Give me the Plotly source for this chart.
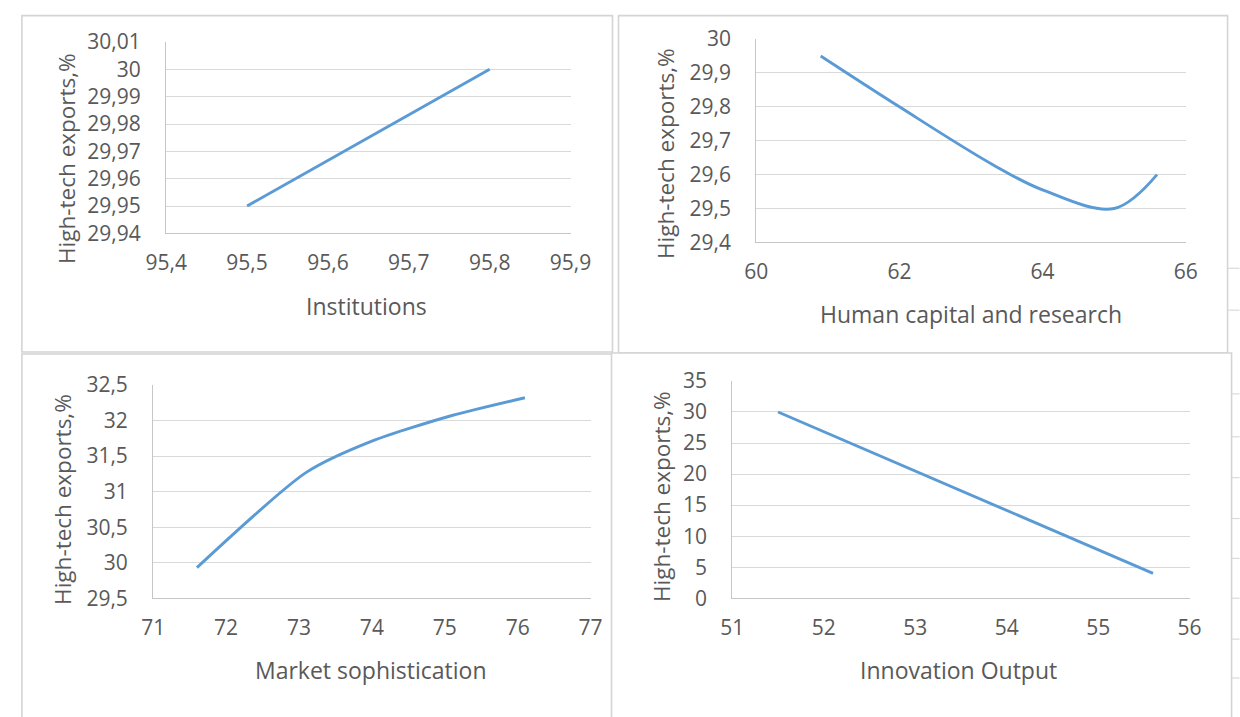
import plotly.graph_objects as go

# ---------------- data ----------------
inst_x = [95.5, 95.8]
inst_y = [29.95, 30.0]

hcr_x = [60.9, 62.0, 63.3, 64.0, 65.0, 65.6]
hcr_y = [29.95, 29.80, 29.63, 29.555, 29.50, 29.60]

mkt_x = [71.6, 73.1, 74.0, 75.1, 76.1]
mkt_y = [29.93, 31.27, 31.71, 32.07, 32.32]

out_x = [51.5, 55.6]
out_y = [30.0, 4.0]

x_titles = ["Institutions", "Human capital and research", "Market sophistication", "Innovation Output"]
y_title = "High-tech exports,%"

# ---------------- layout helpers ----------------
W, H = 1240, 717
FONT = "Open Sans"
TXT = "#595959"
GRID = "#d9d9d9"
AXL = "#c6c6c6"
BLUE = "#5b9bd5"

# the photographed page is shown slightly reduced and offset; place things
# so that they land on the wanted picture pixels
OX, SX = 19.6, 0.9676
OY, SY = 12.9, 0.964

def fx(r):
    return ((r - OX) / SX) / W

def fy(r):
    return 1 - ((r - OY) / SY) / H

areas = [
    (165, 570, 40, 232),
    (756, 1186, 37, 241),
    (152, 590, 384, 598),
    (732, 1190, 380, 598),
]
ranges_x = [(95.4, 95.9, 0.1), (60, 66, 2), (71, 77, 1), (51, 56, 1)]
ranges_y = [(29.94, 30.01, 0.01), (29.4, 30.0, 0.1), (29.5, 32.5, 0.5), (0, 35, 5)]

series = [(inst_x, inst_y, "linear", 1.0), (hcr_x, hcr_y, "spline", 1.0),
          (mkt_x, mkt_y, "spline", 0.7), (out_x, out_y, "linear", 1.0)]

fig = go.Figure()

for i, (xs, ys, shape, sm) in enumerate(series):
    suffix = "" if i == 0 else str(i + 1)
    fig.add_trace(go.Scatter(
        x=xs, y=ys, mode="lines",
        line=dict(color=BLUE, width=2.9, shape=shape, smoothing=sm),
        xaxis="x" + suffix, yaxis="y" + suffix, showlegend=False,
        hoverinfo="skip",
    ))

layout = dict(
    width=W, height=H,
    margin=dict(l=0, r=0, t=0, b=0),
    paper_bgcolor="white", plot_bgcolor="white",
    separators=", ",
    showlegend=False,
    font=dict(family=FONT, color=TXT, size=21),
)

for i in range(4):
    l, r, t, b = areas[i]
    suffix = "" if i == 0 else str(i + 1)
    x0, x1, dx = ranges_x[i]
    y0, y1, dy = ranges_y[i]
    layout["xaxis" + suffix] = dict(
        domain=[fx(l), fx(r)], range=[x0, x1], tick0=x0, dtick=dx,
        anchor="y" + suffix, showgrid=False, zeroline=False,
        showline=True, linecolor=AXL, linewidth=1.3,
        ticks="", ticklabelstandoff=10,
        tickfont=dict(family=FONT, color=TXT, size=21),
        fixedrange=True,
    )
    layout["yaxis" + suffix] = dict(
        domain=[fy(b), fy(t)], range=[y0, y1], tick0=y0, dtick=dy,
        anchor="x" + suffix, showgrid=True, gridcolor=GRID, gridwidth=1.3,
        zeroline=False, showline=True, linecolor=AXL, linewidth=1.3,
        ticks="", ticklabelstandoff=20,
        tickfont=dict(family=FONT, color=TXT, size=21),
        fixedrange=True,
    )

fig.update_layout(**layout)

xt_pos = [(366, 305), (971, 313), (370, 670), (959, 670)]
yt_pos = [(65, 157), (665, 152), (61, 499), (661, 496)]
for i in range(4):
    fig.add_annotation(text=x_titles[i], xref="paper", yref="paper",
                       x=fx(xt_pos[i][0]), y=fy(xt_pos[i][1]),
                       xanchor="center", yanchor="middle", showarrow=False,
                       font=dict(family=FONT, color=TXT, size=23))
    fig.add_annotation(text=y_title, xref="paper", yref="paper",
                       x=fx(yt_pos[i][0]), y=fy(yt_pos[i][1]), textangle=-90,
                       xanchor="center", yanchor="middle", showarrow=False,
                       font=dict(family=FONT, color=TXT, size=22.5))

shapes = []
CELL = "#dadada"
def seg(x0, y0, x1, y1, color=CELL, w=1.2):
    shapes.append(dict(type="line", xref="paper", yref="paper",
                       x0=fx(x0), y0=fy(y0), x1=fx(x1), y1=fy(y1),
                       line=dict(color=color, width=w), layer="below"))

for yv in [267, 309]:
    seg(1228, yv, 1240, yv)
for yv in [393, 436, 477, 518, 558, 598, 639, 678]:
    seg(1232, yv, 1240, yv)

FR = "#d4d4d4"
def rect(x0, y0, x1, y1):
    shapes.append(dict(type="rect", xref="paper", yref="paper",
                       x0=fx(x0), y0=fy(y0), x1=fx(x1), y1=fy(y1),
                       line=dict(color=FR, width=1.6), fillcolor="white", layer="below"))

rect(20.5, 13.5, 612, 351)
rect(618, 13.5, 1228, 352)
rect(20.5, 353, 612, 718)
rect(611, 352, 1232, 718)

fig.update_layout(shapes=shapes)

fig.write_html("out.html", config={"displayModeBar": False},
               post_script="document.body.style.margin='0';document.body.style.overflow='hidden';")
